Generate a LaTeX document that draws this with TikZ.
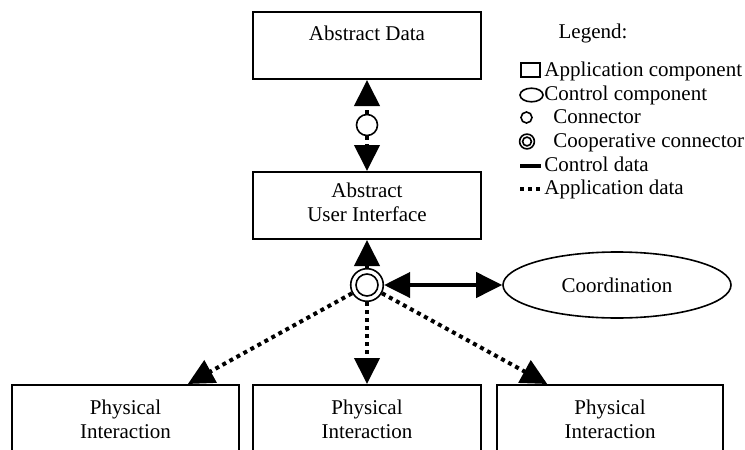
\documentclass[tikz,border=0pt]{standalone}
\usepackage{fontspec}
\setmainfont{Liberation Serif}
\usetikzlibrary{arrows.meta,shapes.geometric}
\begin{document}
\begin{tikzpicture}[x=0.5pt,y=-0.5pt,
  font=\fontsize{10.5}{12}\selectfont,
  box/.style={draw, line width=1pt, rectangle, minimum width=114pt, minimum height=33.5pt, inner sep=0pt},
  lbl/.style={align=center, inner sep=0pt},
  conncirc/.style={draw, circle, line width=0.8pt, minimum size=10.5pt, inner sep=0pt},
  coopcirc/.style={draw, circle, line width=0.8pt, minimum size=16.3pt, inner sep=0pt},
  ctrlellipse/.style={draw, ellipse, line width=0.8pt, minimum width=114pt, minimum height=33pt, inner sep=0pt},
  tip/.style={-{Triangle[length=13pt,width=12.5pt]}},
  tipboth/.style={{Triangle[length=13pt,width=12.5pt]}-{Triangle[length=13pt,width=12.5pt]}},
  appdata/.style={line width=2pt, dash pattern=on 2pt off 2pt},
  ctrldata/.style={line width=2pt},
  legtext/.style={anchor=base west, inner sep=0pt}
]
\useasboundingbox (0,0) rectangle (745,450);
\clip (0,0) rectangle (745,450);

% main boxes
\node[box] (ad) at (367,45.5) {};
\node[lbl] (adtext) at (367,33) {Abstract Data};
\node[box] (ui) at (367,205.5) {};
\node[lbl] (uitext) at (367,202) {Abstract\\User Interface};

\node[box, minimum width=113.5pt] (p1) at (125.5,418.5) {};
\node[lbl] (p1text) at (125.5,419) {Physical\\Interaction};
\node[box] (p2) at (367,418.5) {};
\node[lbl] (p2text) at (367,419) {Physical\\Interaction};
\node[box, minimum width=113pt] (p3) at (610,418.5) {};
\node[lbl] (p3text) at (610,419) {Physical\\Interaction};

% connectors
\node[conncirc] (conn) at (367,125) {};
\node[coopcirc] (coop) at (367,285) {};
\draw[line width=0.8pt] (coop.center) circle[radius=5.5pt];

% control component
\node[ctrlellipse] (coord) at (617,285) {Coordination};

% edges
\draw[appdata, tip] (conn) -- (ad);
\draw[appdata, tip] (conn) -- (ui);
\draw[appdata, tip] (coop) -- (ui);
\draw[ctrldata, tipboth] (coop) -- (coord);
\draw[appdata, tip] (coop) -- (p1);
\draw[appdata, tip] (coop) -- (p2);
\draw[appdata, tip] (coop) -- (p3);

% legend
\node[lbl] (legtitle) at (593,33) {Legend:};
\draw[line width=0.8pt] (521,63) rectangle (540,77);
\node[legtext] (l1) at (544,76) {Application component};
\draw[line width=0.8pt] (531.5,95) ellipse[x radius=5.75pt, y radius=3.4pt];
\node[legtext] (l2) at (544,100) {Control component};
\draw[line width=0.8pt] (526.5,117.5) circle[radius=2.75pt];
\node[legtext] (l3) at (553,123.5) {Connector};
\draw[line width=0.8pt] (527,141.5) circle[radius=3.7pt];
\draw[line width=0.8pt] (527,141.5) circle[radius=2.2pt];
\node[legtext] (l4) at (553,147.5) {Cooperative connector};
\draw[ctrldata] (520,165.5) -- (541,165.5);
\node[legtext] (l5) at (544,171) {Control data};
\draw[appdata] (520,188.5) -- (541,188.5);
\node[legtext] (l6) at (544,194.5) {Application data};
\end{tikzpicture}
\end{document}
